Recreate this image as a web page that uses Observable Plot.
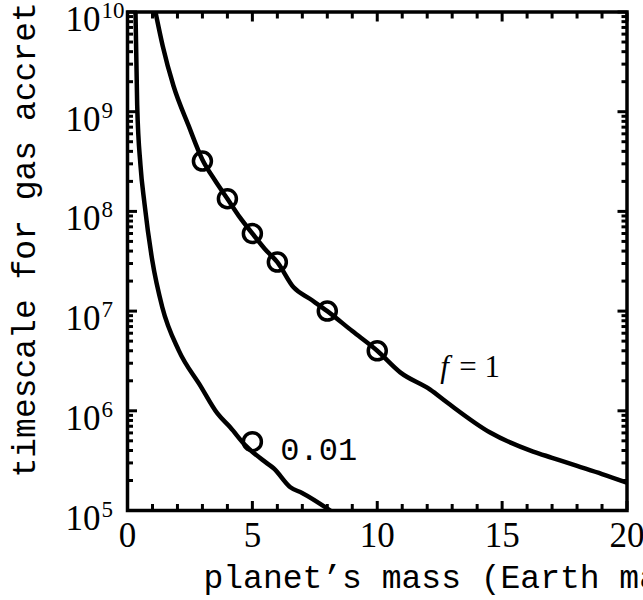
<!DOCTYPE html>
<html>
<head>
<meta charset="utf-8">
<script src="https://cdn.jsdelivr.net/npm/d3@7"></script>
<script src="https://cdn.jsdelivr.net/npm/@observablehq/plot@0.6"></script>
<style>
html, body { margin: 0; padding: 0; background: #fff; overflow: hidden; }
#chart svg { display: block; overflow: hidden; background: #fff; }
</style>
</head>
<body>
<div id="chart"></div>
<script>
// f = 1 curve (planet mass in Earth masses, timescale in years)
const f1Mass = [1.12, 1.41, 1.84, 2.45, 3.0, 3.5, 4.0, 4.5, 5.0, 5.5, 6.0, 6.65, 7.3, 8.0, 9.0, 10.0, 10.92, 12.12, 12.8, 14.52, 16.24, 17, 18, 19, 20];
const f1Time = [1e10, 4.56e9, 1.82e9, 7.2e8, 3.3e8, 2.05e8, 1.34e8, 8.7e7, 6.0e7, 4.2e7, 3.1e7, 1.73e7, 1.33e7, 1.0e7, 6.3e6, 4.0e6, 2.43e6, 1.63e6, 1.21e6, 6.05e5, 3.9e5, 3.38e5, 2.8e5, 2.32e5, 1.9e5];
// f = 0.01 curve
const f001Mass = [0.32, 0.388, 0.52, 0.68, 0.99, 1.39, 2.05, 2.92, 3.6, 4.12, 4.72, 5.59, 5.85, 6.52, 6.99, 8.12];
const f001Time = [1e10, 1.16e9, 2.9e8, 1.2e8, 3.24e7, 1.1e7, 4.04e6, 1.78e6, 9.4e5, 6.8e5, 4.5e5, 2.97e5, 2.65e5, 1.71e5, 1.5e5, 1.0e5];
// circled points
const f1PtMass = [3, 4, 5, 6, 8, 10];
const f1PtTime = [3.2e8, 1.34e8, 6.0e7, 3.1e7, 1.0e7, 4.0e6];
const f001PtMass = [5];
const f001PtTime = [4.9e5];
// tick labels
const xTickValues = [0, 5, 10, 15, 20];
const yTickValues = [1e5, 1e6, 1e7, 1e8, 1e9, 1e10];
const yTickExponents = ["5", "6", "7", "8", "9", "10"];
// annotations
const curveLabels = [{m: 6.12, t: 3.24e5, text: "0.01"}];
const fLabel = [{m: 12.52, t: 2.2e6, sym: "f", rest: "= 1"}];
const xLabel = "planet\u2019s mass (Earth masses)";
const yLabel = "timescale for gas accretion (years)";

const f1 = f1Mass.map((m, i) => ({m, t: f1Time[i]}));
const f001 = f001Mass.map((m, i) => ({m, t: f001Time[i]}));
const f1Pts = f1PtMass.map((m, i) => ({m, t: f1PtTime[i]}));
const f001Pts = f001PtMass.map((m, i) => ({m, t: f001PtTime[i]}));
const yTicks = yTickValues.map((v, i) => ({v, e: yTickExponents[i]}));
const xMinor = d3.range(0, 21).filter(d => d % 5 !== 0);
const yMinor = yTickValues.slice(0, -1).flatMap(v => d3.range(2, 10).map(k => k * v));

const serif = "'Liberation Serif', 'Times New Roman', serif";
const mono = "'Liberation Mono', 'Courier New', monospace";
const blank = () => "";
const tk = {label: null, tickFormat: blank, strokeWidth: 3, stroke: "black"};

const chart = Plot.plot({
  width: 643,
  height: 600,
  marginLeft: 127,
  marginRight: 16.5,
  marginTop: 11.5,
  marginBottom: 90,
  style: {fontFamily: serif, background: "white"},
  x: {domain: [0, 20]},
  y: {type: "log", domain: [1e5, 1e10]},
  marks: [
    Plot.axisX({...tk, anchor: "bottom", ticks: xMinor, tickSize: -6}),
    Plot.axisX({...tk, anchor: "bottom", ticks: xTickValues, tickSize: -9}),
    Plot.axisX({...tk, anchor: "top", ticks: xMinor, tickSize: -6}),
    Plot.axisX({...tk, anchor: "top", ticks: xTickValues, tickSize: -9}),
    Plot.axisY({...tk, anchor: "left", ticks: yMinor, tickSize: -6}),
    Plot.axisY({...tk, anchor: "left", ticks: yTickValues, tickSize: -10}),
    Plot.axisY({...tk, anchor: "right", ticks: yMinor, tickSize: -6}),
    Plot.axisY({...tk, anchor: "right", ticks: yTickValues, tickSize: -10}),
    Plot.frame({stroke: "black", strokeWidth: 3.5}),
    Plot.line(f1, {x: "m", y: "t", stroke: "black", strokeWidth: 4.5, curve: "monotone-x", clip: true}),
    Plot.line(f001, {x: "m", y: "t", stroke: "black", strokeWidth: 4.5, curve: "monotone-x", clip: true}),
    Plot.dot(f1Pts, {x: "m", y: "t", r: 9, stroke: "black", strokeWidth: 3.5, fill: "none"}),
    Plot.dot(f001Pts, {x: "m", y: "t", r: 9, stroke: "black", strokeWidth: 3.5, fill: "none"}),
    // x tick labels
    Plot.text(xTickValues, {x: d => d, text: d => String(d), frameAnchor: "bottom", dy: 36, lineAnchor: "bottom", fontSize: 35, fontFamily: serif, fill: "black"}),
    // y tick labels 10^n
    Plot.text(yTicks, {y: "v", text: () => "10", frameAnchor: "left", dx: -62, dy: 19, lineAnchor: "bottom", textAnchor: "start", fontSize: 35, fontFamily: serif, fill: "black"}),
    Plot.text(yTicks, {y: "v", text: "e", frameAnchor: "left", dx: -26, dy: 6, lineAnchor: "bottom", textAnchor: "start", fontSize: 23, fontFamily: serif, fill: "black"}),
    // curve labels
    Plot.text(curveLabels, {x: "m", y: "t", text: "text", textAnchor: "start", lineAnchor: "bottom", fontSize: 32, fontFamily: mono, fill: "black"}),
    Plot.text(fLabel, {x: "m", y: "t", text: "sym", textAnchor: "start", lineAnchor: "bottom", fontSize: 31, fontStyle: "italic", fontFamily: serif, fill: "black"}),
    Plot.text(fLabel, {x: "m", y: "t", text: "rest", dx: 19, textAnchor: "start", lineAnchor: "bottom", fontSize: 31, fontFamily: serif, fill: "black"}),
    // axis titles
    Plot.text([xLabel], {text: d => d, frameAnchor: "bottom-left", dx: 76, dy: 77, textAnchor: "start", lineAnchor: "bottom", fontSize: 33, fontFamily: mono, fill: "black"}),
    Plot.text([yLabel], {text: d => d, frameAnchor: "bottom-left", dx: -93, dy: -33, rotate: -90, textAnchor: "start", lineAnchor: "bottom", fontSize: 33, fontFamily: mono, fill: "black"})
  ]
});
document.getElementById("chart").appendChild(chart);
</script>
</body>
</html>
